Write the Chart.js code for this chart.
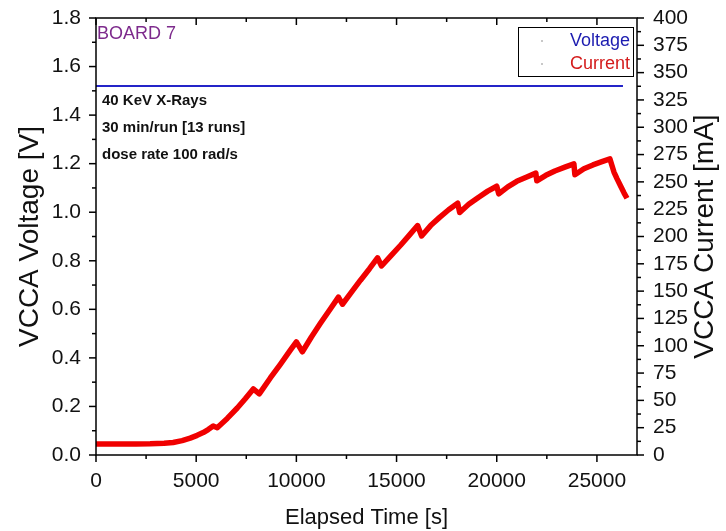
<!DOCTYPE html>
<html>
<head>
<meta charset="utf-8">
<title>VCCA Board 7</title>
<script src="https://cdn.jsdelivr.net/npm/chart.js@4.4.1/dist/chart.umd.min.js"></script>
<style>
  html, body { margin: 0; padding: 0; background: #fff; }
  #chart { display: block; }
</style>
</head>
<body>
<canvas id="chart" width="726" height="531"></canvas>
<script>
// elapsed time [s] and VCCA current [mA]
const currentTime = [0, 1000, 2000, 2700, 3400, 3850, 4300, 4700, 5050, 5350, 5600, 5850, 6050,
    6550, 7050, 7450, 7850, 8150, 8700, 9200, 9700, 10000, 10300, 10750, 11200, 11650, 12100,
    12300, 12750, 13200, 13650, 14050, 14250, 14700, 15200, 15650, 16050, 16250, 16700, 17150,
    17600, 18050, 18150, 18600, 19100, 19550, 20000, 20100, 20550, 21000, 21500, 21950, 22000,
    22450, 22900, 23400, 23850, 23900, 24350, 24800, 25250, 25650, 25750, 25850, 26000, 26200,
    26350, 26500];
const currentValues = [10, 10, 10, 10.2, 10.8, 11.5, 13.2, 15.5, 18, 20.5, 23.3, 26.5, 25,
    33.5, 43, 51.5, 60.5, 56, 70.5, 83, 96, 103.5, 94.5, 108, 120.5, 132.5, 144.5,
    138, 149, 160, 170.5, 180.5, 173, 182, 192, 201.5, 210, 200.5, 210, 217.5,
    224.5, 230.5, 222, 229.5, 236, 241.5, 246, 239, 245.5, 250.5, 254.5, 258, 251,
    256, 260, 263.5, 266.5, 256.5, 262, 265.5, 268.5, 271, 265, 259, 253, 245.5,
    240, 235];

// VCCA voltage [V]
const voltageTime = [0, 5000, 10000, 15000, 20000, 25000, 26300];
const voltageValues = [1.52, 1.52, 1.52, 1.52, 1.52, 1.52, 1.52];

// axis ticks
const timeTicks = [0, 5000, 10000, 15000, 20000, 25000];
const voltTicks = [0, 0.2, 0.4, 0.6, 0.8, 1.0, 1.2, 1.4, 1.6, 1.8];
const ampTicks = [0, 25, 50, 75, 100, 125, 150, 175, 200, 225, 250, 275, 300, 325, 350, 375, 400];

const notes = ["40 KeV X-Rays", "30 min/run [13 runs]", "dose rate 100 rad/s"];

const FONT = "'Liberation Sans', Arial, sans-serif";

function toPoints(xs, ys) {
    return xs.map((x, i) => ({ x: x, y: ys[i] }));
}

function fitVertical(width) {
    return scale => {
        scale.width = width;
        scale.paddingTop = 0;
        scale.paddingBottom = 0;
    };
}

// frame, major + minor tick marks, legend box, right title and text notes
const decorations = {
    id: "decorations",
    afterDraw(chart) {
        const ctx = chart.ctx;
        const area = chart.chartArea;
        const sx = chart.scales.x;
        const sy = chart.scales.y;
        const sy1 = chart.scales.y1;

        ctx.save();
        ctx.strokeStyle = "#000";
        ctx.lineWidth = 1.5;
        ctx.strokeRect(area.left, area.top, area.right - area.left, area.bottom - area.top);

        function tick(x1, y1, x2, y2) {
            ctx.beginPath();
            ctx.moveTo(x1, y1);
            ctx.lineTo(x2, y2);
            ctx.stroke();
        }

        // time axis: bottom outward, top inward
        for (let v = 0; v <= 27000; v += 2500) {
            const len = v % 5000 === 0 ? 7 : 4;
            const px = sx.getPixelForValue(v);
            tick(px, area.bottom, px, area.bottom + len);
            tick(px, area.top, px, area.top + len);
        }
        // voltage axis
        for (let i = 0; i <= 18; i++) {
            const len = i % 2 === 0 ? 7 : 4;
            const py = sy.getPixelForValue(i / 10);
            tick(area.left, py, area.left - len, py);
        }
        // current axis
        for (let i = 0; i <= 32; i++) {
            const len = i % 2 === 0 ? 7 : 4;
            const py = sy1.getPixelForValue(i * 12.5);
            tick(area.right, py, area.right + len, py);
        }

        // right axis title, reading bottom to top
        ctx.save();
        ctx.translate(705, (area.top + area.bottom) / 2);
        ctx.rotate(-Math.PI / 2);
        ctx.font = "28px " + FONT;
        ctx.fillStyle = "#111";
        ctx.textAlign = "center";
        ctx.textBaseline = "middle";
        ctx.fillText("VCCA Current [mA]", 0, 0);
        ctx.restore();

        // legend
        ctx.lineWidth = 1;
        ctx.strokeRect(518.5, 27.5, 115, 49);
        ctx.font = "18px " + FONT;
        ctx.textAlign = "right";
        ctx.textBaseline = "middle";
        chart.data.datasets.forEach((ds, i) => {
            const y = 41 + i * 23;
            ctx.fillStyle = "#c8c8c8";
            ctx.fillRect(541, y - 1, 2, 2);
            ctx.fillStyle = ds.legendColor;
            ctx.fillText(ds.label, 630, y);
        });

        // board label
        ctx.textAlign = "left";
        ctx.fillStyle = "#7d2a8c";
        ctx.fillText("BOARD 7", 97, 34);

        // run notes
        ctx.fillStyle = "#111";
        ctx.font = "bold 15px " + FONT;
        notes.forEach((t, i) => {
            ctx.fillText(t, 102, 101 + i * 27);
        });
        ctx.restore();
    }
};

new Chart(document.getElementById("chart"), {
    type: "line",
    data: {
        datasets: [
            {
                label: "Voltage",
                data: toPoints(voltageTime, voltageValues),
                yAxisID: "y",
                borderColor: "#2424c8",
                legendColor: "#1c1cb0",
                borderWidth: 2,
                pointRadius: 0,
                tension: 0
            },
            {
                label: "Current",
                data: toPoints(currentTime, currentValues),
                yAxisID: "y1",
                borderColor: "#f00000",
                legendColor: "#d41c1c",
                borderWidth: 5.5,
                pointRadius: 0,
                tension: 0,
                borderJoinStyle: "round",
                borderCapStyle: "butt"
            }
        ]
    },
    options: {
        responsive: false,
        animation: false,
        devicePixelRatio: 1,
        layout: {
            padding: { top: 18, left: 0, right: 0, bottom: 0 }
        },
        plugins: {
            legend: { display: false },
            tooltip: { enabled: false }
        },
        scales: {
            x: {
                type: "linear",
                position: "bottom",
                min: 0,
                max: 27000,
                afterBuildTicks: scale => { scale.ticks = timeTicks.map(v => ({ value: v })); },
                afterFit: scale => { scale.height = 76; },
                grid: { display: false, drawTicks: false },
                border: { display: false },
                ticks: {
                    padding: 14,
                    maxRotation: 0,
                    autoSkip: false,
                    color: "#111",
                    font: { family: FONT, size: 21 },
                    callback: v => String(v)
                },
                title: {
                    display: true,
                    text: "Elapsed Time [s]",
                    color: "#111",
                    padding: { top: 0, bottom: 0 },
                    font: { family: FONT, size: 22 }
                }
            },
            y: {
                type: "linear",
                position: "left",
                min: 0,
                max: 1.8,
                afterBuildTicks: scale => { scale.ticks = voltTicks.map(v => ({ value: v })); },
                afterFit: fitVertical(96),
                grid: { display: false, drawTicks: false },
                border: { display: false },
                ticks: {
                    padding: 15,
                    autoSkip: false,
                    color: "#111",
                    font: { family: FONT, size: 21 },
                    callback: v => v.toFixed(1)
                },
                title: {
                    display: true,
                    text: "VCCA Voltage [V]",
                    color: "#111",
                    padding: { top: 13, bottom: 0 },
                    font: { family: FONT, size: 28 }
                }
            },
            y1: {
                type: "linear",
                position: "right",
                min: 0,
                max: 400,
                afterBuildTicks: scale => { scale.ticks = ampTicks.map(v => ({ value: v })); },
                afterFit: fitVertical(89),
                grid: { display: false, drawTicks: false },
                border: { display: false },
                ticks: {
                    padding: 16,
                    autoSkip: false,
                    color: "#111",
                    font: { family: FONT, size: 21 }
                },
                title: { display: false }
            }
        }
    },
    plugins: [decorations]
});
</script>
</body>
</html>
